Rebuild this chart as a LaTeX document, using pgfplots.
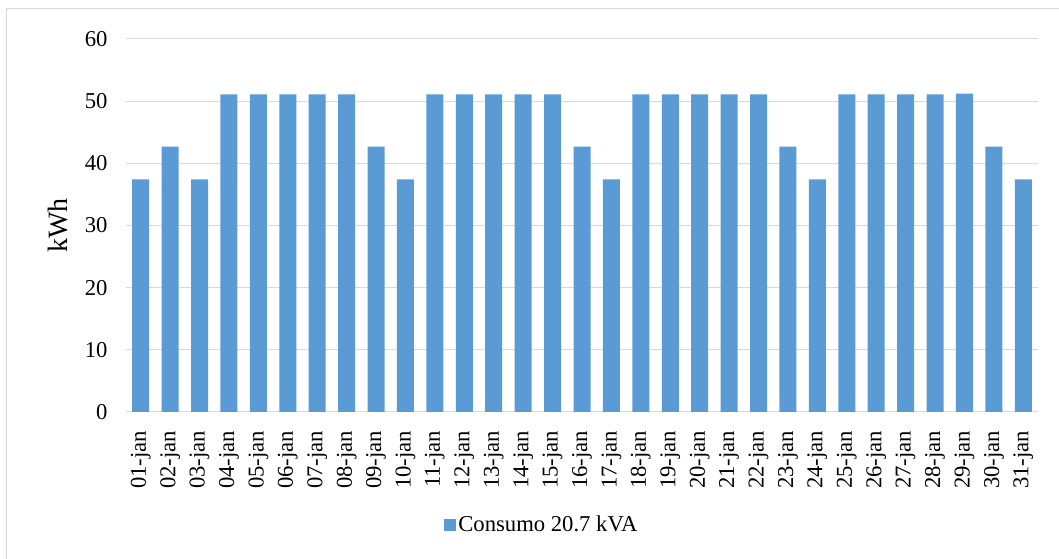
\documentclass[border=0pt]{standalone}
\usepackage{fontspec}
\setmainfont{Liberation Serif}
\usepackage{pgfplots}
\pgfplotsset{compat=1.18}
\definecolor{barblue}{HTML}{5B9BD5}
\definecolor{gridgray}{HTML}{D9D9D9}
\begin{document}
\fontsize{17}{20}\selectfont
\begin{tikzpicture}
\useasboundingbox (-94.5pt,-110.25pt) rectangle (699.75pt,309pt);
\draw[gridgray, line width=0.75pt] (-89.25pt,-130pt) rectangle (720pt,302.25pt);
\begin{axis}[
  at={(0,0)}, anchor=south west,
  scale only axis, width=684pt, height=279.75pt,
  ybar, bar width=12.75pt,
  ymin=0, ymax=60, ytick={0,10,...,60},
  xmin=-0.5, xmax=30.5,
  xtick={0,...,30},
  xticklabels={01-jan,02-jan,03-jan,04-jan,05-jan,06-jan,07-jan,08-jan,09-jan,10-jan,11-jan,12-jan,13-jan,14-jan,15-jan,16-jan,17-jan,18-jan,19-jan,20-jan,21-jan,22-jan,23-jan,24-jan,25-jan,26-jan,27-jan,28-jan,29-jan,30-jan,31-jan},
  xticklabel style={rotate=90, anchor=east, font=\fontsize{17}{20}\selectfont},
  yticklabel style={font=\fontsize{17}{20}\selectfont},
  /pgf/number format/assume math mode=true,
  xticklabel shift=4pt,
  yticklabel shift=8pt,
  axis x line*=bottom, axis y line*=left,
  y axis line style={draw=none},
  x axis line style={gridgray, line width=0.75pt},
  tick style={draw=none},
  ymajorgrids, grid style={gridgray, line width=0.75pt},
  ylabel={kWh},
  ylabel style={at={(axis description cs:-0.075,0.5)}, anchor=center, font=\fontsize{21}{24}\selectfont},
  legend style={at={(0.456,-0.303)}, anchor=center, draw=none, fill=none, font=\fontsize{17}{20}\selectfont, inner sep=0pt},
  legend image code/.code={\fill[barblue] (0pt,-4.5pt) rectangle (9pt,4.5pt);},
]
\addplot[fill=barblue, draw=none] coordinates {
(0,37.4) (1,42.7) (2,37.4) (3,51.1) (4,51.1) (5,51.1) (6,51.1) (7,51.1)
(8,42.7) (9,37.4) (10,51.1) (11,51.1) (12,51.1) (13,51.1) (14,51.1)
(15,42.7) (16,37.4) (17,51.1) (18,51.1) (19,51.1) (20,51.1) (21,51.1)
(22,42.7) (23,37.4) (24,51.1) (25,51.1) (26,51.1) (27,51.1) (28,51.2)
(29,42.7) (30,37.4)
};
\addlegendentry{Consumo 20.7 kVA}
\end{axis}
\end{tikzpicture}
\end{document}
